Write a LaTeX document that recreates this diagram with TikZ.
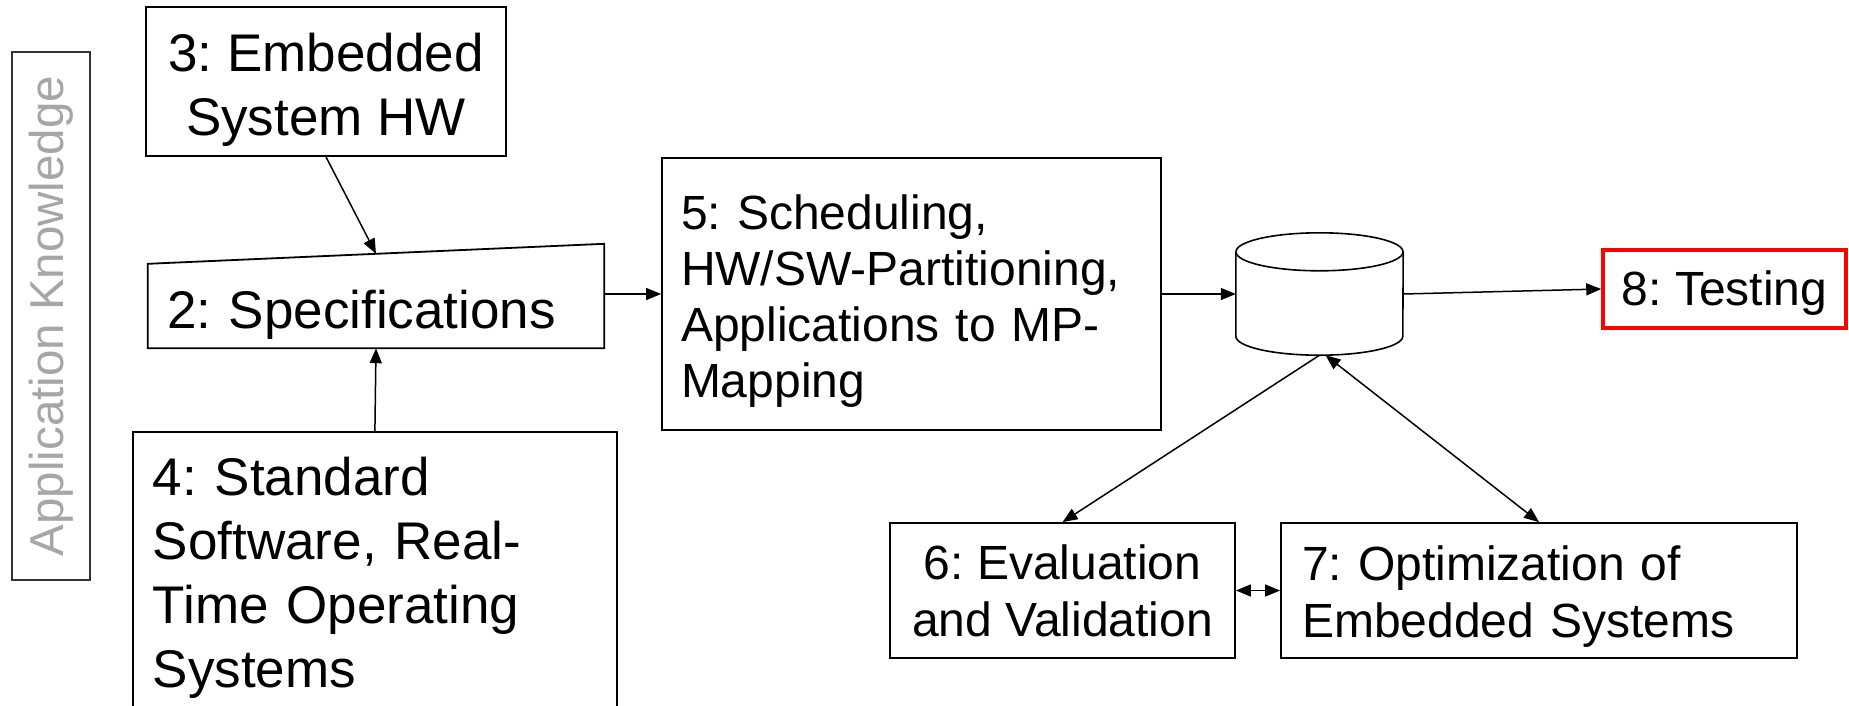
\documentclass[tikz,border=0pt]{standalone}
\usepackage{fontspec}
\setmainfont{Liberation Sans}
\usetikzlibrary{arrows.meta,calc}
\frenchspacing

\tikzset{
  box/.style={draw, line width=1.8pt, inner sep=0pt},
  big/.style={font=\fontsize{53}{64}\selectfont},
  mid/.style={font=\fontsize{48}{57}\selectfont},
  arr/.style={line width=1.5pt, -{Triangle[length=15pt,width=12pt]}},
  darr/.style={line width=1.5pt, {Triangle[length=15pt,width=12pt]}-{Triangle[length=15pt,width=12pt]}},
}
\newcommand{\lift}[1]{\rule{0pt}{#1}}

\begin{document}
\begin{tikzpicture}[x=1pt,y=-1pt]
\useasboundingbox (0,0) rectangle (1849,705);

% side label
\node[box, draw=black!80, line width=1.5pt, rotate=90, minimum width=528pt, minimum height=78pt,
  text=black!35, font=\fontsize{47.5}{57}\selectfont] (ak) at (51,316) {Application Knowledge};

% inputs
\node[box, big, align=center, minimum width=360pt, minimum height=149pt] (hw) at (326,81.5) {\lift{55pt}3: Embedded\\System HW};
\node[big, align=left, text width=418pt, inner xsep=19pt, inner ysep=0pt, minimum height=84pt] (spec) at (376,306) {\lift{55pt}2: Specifications};
\draw[line width=1.8pt] (spec.south west) -- (spec.north west) -- ($(spec.north east)+(0,-20)$) -- (spec.south east) -- cycle;
\coordinate (spectop) at ($(spec.north west)!0.5!(spec.north east)+(0,-10)$);
\node[box, big, align=left, text width=444pt, inner xsep=20pt, inner ysep=25pt, anchor=north west] (sw) at (132,431) {4: Standard\\Software, Real-\\Time Operating\\Systems};

% mapping
\node[box, font=\fontsize{48}{56}\selectfont, align=left, text width=461pt, inner xsep=19pt, minimum height=272pt] (sched) at (911.5,294) {\lift{49pt}5: Scheduling,\\HW/SW-Partitioning,\\Applications to MP-\\Mapping};

% data base
\node[minimum width=167pt, minimum height=122pt, inner sep=0pt] (db) at (1319.5,294) {};
\draw[line width=1.6pt] ($(db.north)+(0,19)$) ellipse [x radius=83.5pt, y radius=19pt];
\draw[line width=1.6pt] ($(db.north west)+(0,19)$) -- ($(db.south west)+(0,-19)$)
  arc[start angle=180, end angle=360, x radius=83.5pt, y radius=19pt] -- ($(db.north east)+(0,19)$);

% outputs
\node[draw=red, line width=3.5pt, inner sep=0pt, mid, minimum width=243pt, minimum height=78pt] (test) at (1724.5,289) {\lift{42pt}8: Testing};
\node[box, mid, align=center, minimum width=345pt, minimum height=135pt] (eval) at (1062.5,590.5) {6: Evaluation\\and Validation};
\node[box, mid, align=left, text width=474pt, inner xsep=21pt, minimum height=135pt] (opt) at (1539,590.5) {\lift{47pt}7: Optimization of\\Embedded Systems};

% connectors
\draw[arr] (hw.south) -- (spectop);
\draw[arr] (sw.north) -- (spec.south);
\draw[arr] (spec.east |- sched.west) -- (sched.west);
\draw[arr] (sched.east) -- (db.west);
\draw[arr] (db.east) -- (test.west);
\draw[arr] (db.south) -- (eval.north);
\draw[darr] ([xshift=6pt]db.south) -- (opt.north);
\draw[darr] (eval.east) -- (opt.west);
\end{tikzpicture}
\end{document}
